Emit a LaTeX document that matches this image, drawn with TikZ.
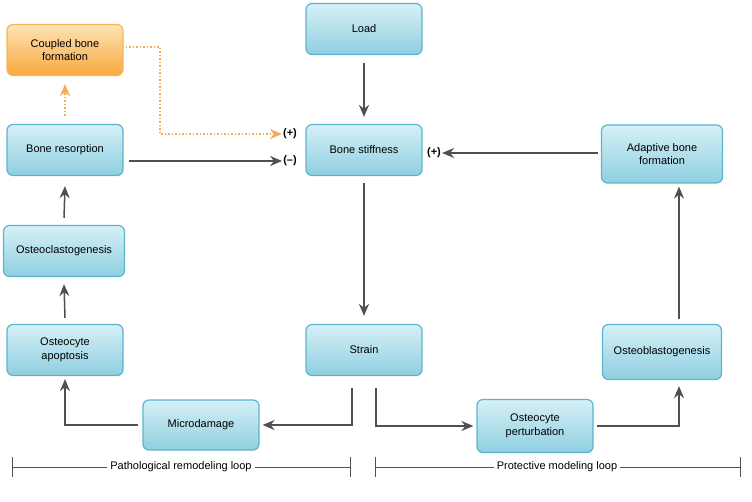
\documentclass[tikz,border=0pt]{standalone}
\usepackage{fontspec}
\setmainfont{Liberation Sans}
\usetikzlibrary{arrows.meta}
\definecolor{btop}{HTML}{D6F0F7}
\definecolor{bbot}{HTML}{8FCFE0}
\definecolor{bdr}{HTML}{5AB4CF}
\definecolor{otop}{HTML}{FDE3B5}
\definecolor{obot}{HTML}{F9A83E}
\definecolor{odr}{HTML}{F5B55A}
\definecolor{oar}{HTML}{F5AA55}
\definecolor{arr}{HTML}{505050}
\begin{document}
\begin{tikzpicture}[x=1pt,y=-1pt,font=\fontsize{11}{13.5}\selectfont,
 box/.style={rounded corners=6pt,draw=bdr,line width=1.2pt,top color=btop,bottom color=bbot,align=center,minimum width=116pt,minimum height=51pt,inner sep=2pt},
 obox/.style={box,draw=odr,top color=otop,bottom color=obot},
 ar/.style={draw=arr,line width=1.5pt,-{Stealth[length=12pt,width=10pt]}},
 oar/.style={draw=oar,line width=1.5pt,dotted,-{Stealth[length=12pt,width=10pt]}},
 lbl/.style={font=\fontsize{11}{13}\bfseries\selectfont,inner sep=1pt}]
\useasboundingbox (0,0) rectangle (752,502);
\node[obox] (cbf) at (65,50) {Coupled bone\\formation};
\node[box] (load) at (364,29) {Load};
\node[box] (br) at (65,150) {Bone resorption};
\node[box] (bs) at (364,150) {Bone stiffness};
\node[box,minimum width=121pt,minimum height=58pt] (abf) at (662,154) {Adaptive bone\\formation};
\node[box,minimum width=121pt] (ocg) at (64,251) {Osteoclastogenesis};
\node[box] (oa) at (65,350) {Osteocyte\\apoptosis};
\node[box] (st) at (364,350) {Strain};
\node[box,minimum width=119pt,minimum height=55pt] (obg) at (662,352) {Osteoblastogenesis};
\node[box,minimum height=50pt] (md) at (201,425) {Microdamage};
\node[box,minimum height=53pt] (op) at (535,426) {Osteocyte\\perturbation};
\node[lbl] (plus1) at (290,134) {(+)};
\node[lbl] (minus) at (290,161) {(--)};
\node[lbl] (plus2) at (434,153) {(+)};
\draw[ar] ([yshift=-8pt]load.south) -- ([yshift=7pt]bs.north);
\draw[ar] ([yshift=-7pt]bs.south) -- ([yshift=8pt]st.north);
\draw[ar] ([xshift=-12pt,yshift=-12pt]st.south) |- ([xshift=3pt]md.east);
\draw[ar] ([xshift=12pt,yshift=-12pt]st.south) |- ([xshift=-3pt]op.west);
\draw[ar] ([xshift=3pt]op.east) -| ([xshift=17pt,yshift=-6pt]obg.south);
\draw[ar] ([xshift=17pt,yshift=5pt]obg.north) -- ([xshift=17pt,yshift=-3pt]abf.south);
\draw[ar] ([xshift=-3pt,yshift=1pt]abf.west) -- (plus2);
\draw[ar] ([xshift=-4pt]md.west) -| ([yshift=-3pt]oa.south);
\draw[ar] ([yshift=6pt]oa.north) -- ([yshift=-7pt]ocg.south);
\draw[ar] ([yshift=7pt]ocg.north) -- ([yshift=-10pt]br.south);
\draw[ar] ([xshift=5pt,yshift=-11pt]br.east) -- (minus);
\draw[oar] ([xshift=2pt,yshift=3pt]cbf.east) -| (160,134) -- (plus1);
\draw[oar] ([yshift=8pt]br.north) -- ([yshift=-8pt]cbf.south);
\begin{scope}[draw=arr,line width=0.9pt]
\draw (12,467) -- (350,467); \draw (12,457) -- (12,477); \draw (350,457) -- (350,477);
\draw (375,467) -- (740,467); \draw (375,457) -- (375,477); \draw (740,457) -- (740,477);
\end{scope}
\node[fill=white,inner sep=3pt] (pl) at (181,467) {Pathological remodeling loop};
\node[fill=white,inner sep=3pt] (ml) at (557,467) {Protective modeling loop};
\end{tikzpicture}
\end{document}
